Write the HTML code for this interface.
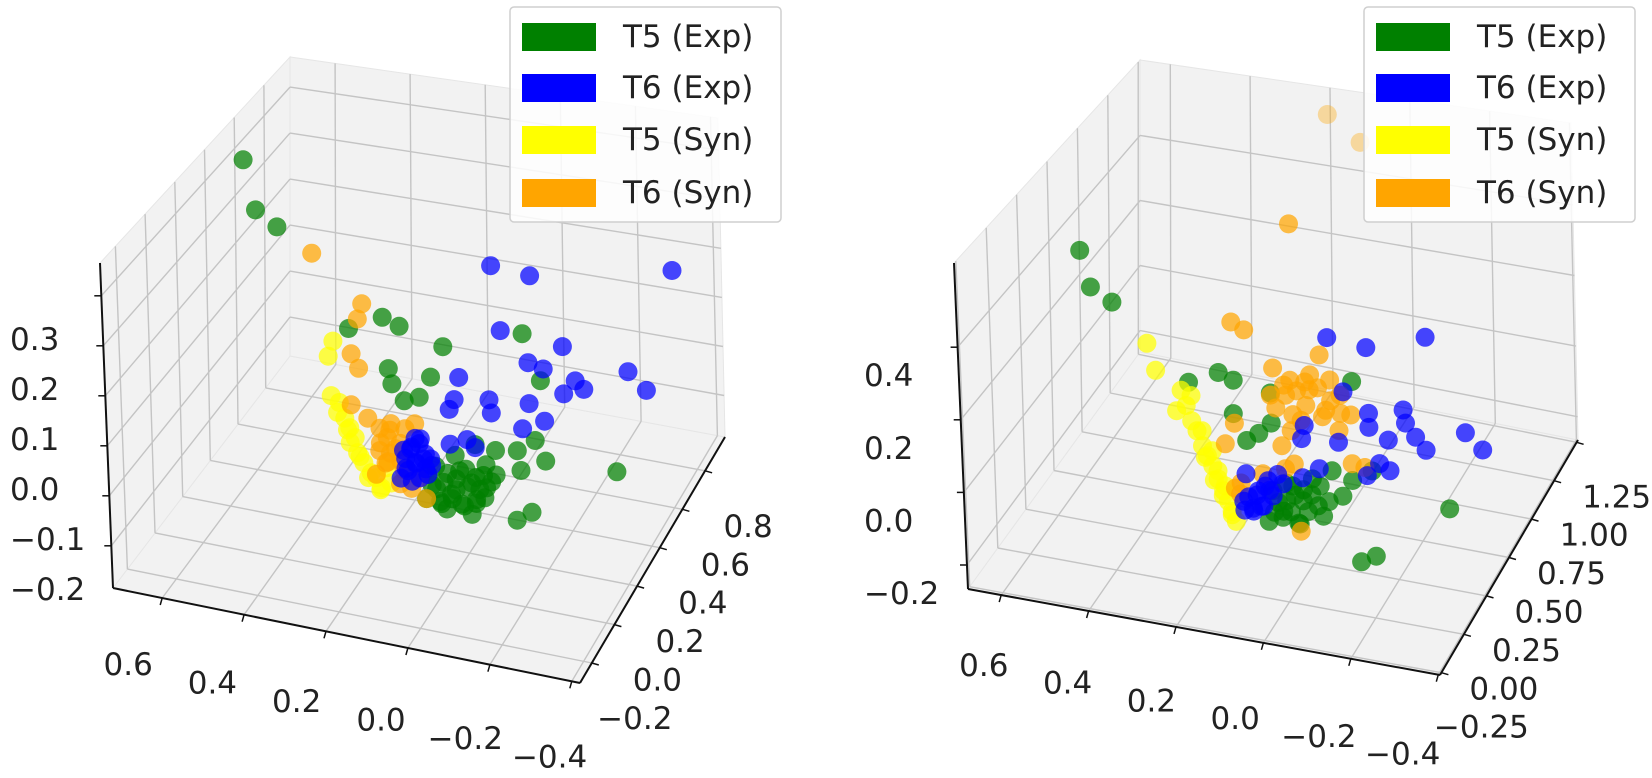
<!DOCTYPE html>
<html><head><meta charset="utf-8">
<style>
html,body{margin:0;padding:0;background:#fff;}
svg text{font-family:"DejaVu Sans","Liberation Sans",sans-serif;fill:#222;}
</style></head>
<body>
<svg id="fig" width="1652" height="773" viewBox="0 0 1652 773" xmlns="http://www.w3.org/2000/svg">
<g id="left"></g>
<g id="right"></g>
</svg>
<script>
// ---------- data: left plot ----------
const leftDepthY = 0.2;
const leftT5ExpX = [0.546,0.518,0.465,0.291,0.205,0.163,0.054,-0.147,0.193,0.185,0.087,0.155,0.117,-0.190,-0.198,-0.072,-0.021,-0.127,-0.135,-0.173,-0.377,-0.122,-0.160,0.029,0.004,-0.021,0.042,0.016,-0.021,-0.047,0.067,0.105,0.054,-0.042,-0.009,-0.072,-0.047,0.079,
  0.09,0.06,0.03,0.0,-0.03,0.08,0.05,0.02,-0.01,-0.04,0.07,0.04,0.01,-0.02,-0.06,0.10,0.03];
const leftT5ExpZ = [0.437,0.338,0.311,0.129,0.165,0.153,0.128,0.185,0.062,0.032,0.061,0.002,0.015,0.096,-0.066,-0.064,-0.060,-0.056,-0.095,-0.028,-0.060,-0.198,-0.176,-0.138,-0.114,-0.127,-0.171,-0.187,-0.172,-0.144,-0.194,-0.190,-0.203,-0.165,-0.204,-0.114,-0.097,-0.166,
  -0.16,-0.15,-0.16,-0.15,-0.15,-0.12,-0.13,-0.12,-0.14,-0.12,-0.19,-0.18,-0.19,-0.18,-0.13,-0.14,-0.09];
const leftT6ExpX = [-0.072,-0.170,-0.530,-0.092,-0.248,-0.160,-0.198,-0.278,-0.299,-0.248,-0.412,-0.457,0.016,0.029,0.042,-0.059,-0.064,-0.160,-0.198,-0.142,-0.001,0.042,-0.021,0.117,0.105,0.130,0.155,0.168,0.105,0.142,0.092,0.155,0.130,
  0.12,0.14,0.16,0.11,0.13,0.15,0.10,0.12,0.14,0.09];
const leftT6ExpZ = [0.312,0.306,0.370,0.183,0.174,0.128,0.121,0.109,0.095,0.078,0.148,0.117,0.071,0.024,0.002,0.037,0.011,0.045,0.015,-0.009,-0.053,-0.069,-0.066,-0.070,-0.099,-0.122,-0.136,-0.158,-0.129,-0.094,-0.107,-0.116,-0.071,
  -0.08,-0.09,-0.10,-0.11,-0.12,-0.14,-0.14,-0.15,-0.16,-0.12];
const leftT5SynX = [0.331,0.344,0.339,0.319,0.306,0.294,0.281,0.276,0.261,0.243,0.231,0.218,0.205,0.193,0.324,0.294,0.25,0.27,0.22,0.30];
const leftT5SynZ = [0.097,0.064,-0.016,-0.027,-0.057,-0.075,-0.093,-0.123,-0.141,-0.159,-0.167,-0.186,-0.143,-0.172,-0.048,-0.105,-0.17,-0.13,-0.19,-0.08];
const leftT6SynX = [0.379,0.256,0.268,0.286,0.268,0.289,0.248,0.218,0.193,0.218,0.193,0.168,0.205,0.155,0.130,0.142,0.122,0.168,0.105,
  0.20,0.22,0.18,0.16,0.20,0.23,0.17,0.19];
const leftT6SynZ = [0.270,0.185,0.152,0.078,0.051,-0.027,-0.048,-0.064,-0.064,-0.094,-0.111,-0.087,-0.133,-0.055,-0.041,-0.175,-0.151,-0.122,-0.190,
  -0.08,-0.11,-0.10,-0.14,-0.13,-0.16,-0.17,-0.05];
const leftXTicks = [0.6,0.4,0.2,0.0,-0.2,-0.4];
const leftYTicks = [-0.2,0.0,0.2,0.4,0.6,0.8];
const leftZTicks = [-0.2,-0.1,0.0,0.1,0.2,0.3];

// ---------- data: right plot ----------
const rightDepthY = 0.33;
const rightT5ExpX = [0.554,0.531,0.481,0.305,0.234,0.199,-0.081,0.201,0.112,0.142,0.171,0.112,0.065,0.018,-0.029,0.041,0.088,0.006,-0.053,0.123,0.053,-0.006,-0.077,-0.124,-0.305,-0.093,-0.128,0.112,
  0.10,0.08,0.06,0.04,0.02,0.0,0.09,0.07,0.03,-0.02,0.05,0.11,0.08];
const rightT5ExpZ = [0.469,0.369,0.337,0.147,0.191,0.177,0.236,0.081,0.074,0.038,0.011,-0.119,-0.095,-0.064,-0.030,-0.132,-0.172,-0.138,-0.097,-0.209,-0.198,-0.165,-0.047,-0.009,-0.076,-0.275,-0.251,0.160,
  -0.15,-0.14,-0.12,-0.10,-0.11,-0.08,-0.19,-0.17,-0.16,-0.12,-0.20,-0.18,-0.09];
const rightT6ExpX = [-0.025,-0.117,-0.258,-0.347,-0.387,-0.119,-0.206,-0.229,-0.253,-0.164,-0.142,-0.166,-0.112,-0.060,-0.119,-0.201,0.034,0.041,-0.046,0.001,0.041,0.088,0.182,0.147,0.123,0.159,0.112,0.175,0.135,
  0.17,0.15,0.13,0.16,0.14,0.18,0.12,0.10];
const rightT6ExpZ = [0.349,0.341,0.402,0.150,0.110,0.114,0.146,0.111,0.079,0.088,0.016,0.001,-0.025,0.202,0.154,0.182,0.085,0.046,0.055,-0.031,-0.066,-0.094,-0.165,-0.128,-0.093,-0.188,-0.134,-0.085,-0.168,
  -0.15,-0.14,-0.11,-0.18,-0.17,-0.19,-0.12,-0.07];
const rightT5SynX = [0.401,0.382,0.323,0.312,0.300,0.288,0.276,0.265,0.253,0.241,0.229,0.218,0.210,0.201,0.300,0.276,0.253,0.241,0.225,0.335,0.27,0.25,0.23,0.21];
const rightT5SynZ = [0.237,0.164,0.120,0.079,0.038,0.012,-0.028,-0.054,-0.080,-0.115,-0.146,-0.173,-0.200,-0.227,0.110,0.015,-0.037,-0.092,-0.131,0.059,-0.06,-0.12,-0.16,-0.21];
const rightT6SynX = [-0.041,0.058,0.201,0.171,-0.006,0.105,0.065,0.018,-0.029,-0.053,-0.018,0.029,0.076,0.112,0.041,-0.077,-0.048,0.065,0.088,0.060,0.081,0.135,0.187,0.201,0.189,0.048,-0.077,-0.107,0.199,0.222,-0.053,-0.117,
  0.05,0.0,-0.03,0.08,0.03,0.10,0.06,-0.01,0.02];
const rightT6SynZ = [0.989,0.655,0.343,0.327,0.295,0.233,0.207,0.233,0.229,0.191,0.140,0.143,0.162,0.154,0.098,0.140,0.089,0.063,0.015,-0.031,-0.049,-0.076,-0.114,-0.132,-0.146,-0.220,0.001,-0.003,0.054,-0.010,0.139,0.926,
  0.18,0.20,0.17,0.19,0.21,0.12,0.11,0.12,0.19];
const rightXTicks = [0.6,0.4,0.2,0.0,-0.2,-0.4];
const rightYTicks = [-0.25,0.0,0.25,0.5,0.75,1.0,1.25];
const rightZTicks = [-0.2,0.0,0.2,0.4];
const rightYTickLabels = ["−0.25","0.00","0.25","0.50","0.75","1.00","1.25"];

const seriesNames = ["T5 (Exp)","T6 (Exp)","T5 (Syn)","T6 (Syn)"];
const seriesColors = ["#008000","#0000ff","#ffff00","#ffa500"];

const NS = "http://www.w3.org/2000/svg";
function mk(tag, attrs, parent){ const e=document.createElementNS(NS,tag); for(const k in attrs) e.setAttribute(k,attrs[k]); parent.appendChild(e); return e; }
function fmt(v){ const s=v.toFixed(1); return v<0 ? "−"+s.slice(1) : (s==="-0.0"?"0.0":s); }

function makePlot(cfg){
  const g = document.getElementById(cfg.id);
  const C = cfg.corners;
  function L(p,q,t){ return [p[0]+(q[0]-p[0])*t, p[1]+(q[1]-p[1])*t]; }
  function proj(a,b,c){
    const b0=L(L(C.p000,C.p100,a), L(C.p010,C.p110,a), b);
    const b1=L(L(C.p001,C.p101,a), L(C.p011,C.p111,a), b);
    return L(b0,b1,c);
  }
  const fa=cfg.fa, fb=cfg.fb, fc=cfg.fc;
  function poly(pts, name){
    const p = mk("polygon",{points:pts.map(q=>q[0].toFixed(1)+","+q[1].toFixed(1)).join(" "),fill:"#f2f2f2",stroke:"#e6e6e6","stroke-width":1},g);
    
    
  }
  poly([proj(0,0,0),proj(1,0,0),proj(1,1,0),proj(0,1,0)], "floor-pane");
  poly([proj(0,0,0),proj(0,1,0),proj(0,1,1),proj(0,0,1)], "left-wall-pane");
  poly([proj(0,1,0),proj(1,1,0),proj(1,1,1),proj(0,1,1)], "back-wall-pane");
  function line(p,q,name,col,w){
    const l = mk("line",{x1:p[0].toFixed(1),y1:p[1].toFixed(1),x2:q[0].toFixed(1),y2:q[1].toFixed(1),stroke:col||"#c4c4c4","stroke-width":w||1.4},g);
    
    
    return l;
  }
  cfg.xTicks.forEach(v=>{ const a=fa(v); line(proj(a,0,0),proj(a,1,0),"grid-x-floor"); line(proj(a,1,0),proj(a,1,1),"grid-x-back"); });
  cfg.yTicks.forEach(v=>{ const b=fb(v); line(proj(0,b,0),proj(1,b,0),"grid-y-floor"); line(proj(0,b,0),proj(0,b,1),"grid-y-wall"); });
  cfg.zTicks.forEach(v=>{ const c=fc(v); line(proj(0,0,c),proj(0,1,c),"grid-z-wall"); line(proj(0,1,c),proj(1,1,c),"grid-z-back"); });
  line(proj(0,0,0),proj(1,0,0),"x-axis-line","#111",2);
  line(proj(1,0,0),proj(1,1,0),"y-axis-line","#111",2);
  line(proj(0,0,0),proj(0,0,1),"z-axis-line","#111",2);
  function label(x,y,txt,name,anchor){
    const t = mk("text",{x:x.toFixed(1),y:y.toFixed(1),"font-size":31,"text-anchor":anchor||"middle","dominant-baseline":"central"},g);
    t.textContent = txt;
    
    
  }
  cfg.xTicks.forEach((v,i)=>{ const a=fa(v); const p=proj(a,0,0); line(p,[p[0]-2,p[1]+7],"x-tick","#111",1.5);
    const o=cfg.xOff(a); label(p[0]+o[0],p[1]+o[1],fmt(v),"x-tick-label"); });
  cfg.yTicks.forEach((v,i)=>{ const b=fb(v); const p=proj(1,b,0); line(p,[p[0]+7,p[1]+2],"y-tick","#111",1.5);
    label(p[0]+cfg.yOff[0],p[1]+cfg.yOff[1], cfg.yLabels? cfg.yLabels[i] : fmt(v),"y-tick-label"); });
  cfg.zTicks.forEach(v=>{ const c=fc(v); const p=proj(0,0,c); line(p,[p[0]-7,p[1]],"z-tick","#111",1.5);
    label(cfg.zLabelX, p[1]+cfg.zOffY, fmt(v),"z-tick-label","start"); });
  const sets=[[cfg.s[0],0],[cfg.s[2],2],[cfg.s[3],3],[cfg.s[1],1]];
  sets.forEach(([s,k])=>{
    const grp = mk("g",{},g);
    
    
    s.x.forEach((xv,i)=>{
      const c=fc(s.z[i]); const p=proj(fa(xv),fb(s.y),c);
      const op = c>1.15 ? 0.35 : 0.72;
      const dot = mk("circle",{cx:p[0].toFixed(1),cy:p[1].toFixed(1),r:9.5,fill:seriesColors[k],"fill-opacity":op},grp);
      
      
    });
  });
  const lg = mk("g",{},g);
  
  
  const bx = mk("rect",{x:cfg.legX,y:7,width:271,height:215,rx:4,fill:"#fff","fill-opacity":0.85,stroke:"#cfcfcf","stroke-width":1.5},lg);
  
  
  [37,88,140,193].forEach((cy,k)=>{
    const r = mk("rect",{x:cfg.legX+12,y:cy-14,width:74,height:28,fill:seriesColors[k]},lg);
    
    
    const t = mk("text",{x:cfg.legX+113,y:cy,"font-size":31,"dominant-baseline":"central"},lg);
    t.textContent = seriesNames[k];
    
    
  });
}

makePlot({
  id:"left",
  corners:{p000:[113,588],p100:[580,683],p010:[290,356],p110:[725,437],p001:[100,263],p101:[570,360],p011:[290,57],p111:[718,118]},
  fa:x=>(0.72-x)/1.14, fb:y=>(y+0.304)/1.28, fc:z=>(z+0.2845)/0.65,
  xTicks:leftXTicks, yTicks:leftYTicks, zTicks:leftZTicks,
  xOff:a=>[-35.4+13.4*a, 66+10.2*a], yOff:[43,56], zLabelX:10, zOffY:44,
  legX:510,
  s:[{x:leftT5ExpX,z:leftT5ExpZ,y:leftDepthY},{x:leftT6ExpX,z:leftT6ExpZ,y:leftDepthY},{x:leftT5SynX,z:leftT5SynZ,y:leftDepthY},{x:leftT6SynX,z:leftT6SynZ,y:leftDepthY}]
});
makePlot({
  id:"right",
  corners:{p000:[968,589],p100:[1440,675],p010:[1140,352],p110:[1578,440],p001:[954,263],p101:[1430,360],p011:[1140,60],p111:[1571,123]},
  fa:x=>(0.676-x)/1.08, fb:y=>(y+0.265)/1.53, fc:z=>(z+0.266)/0.898,
  xTicks:rightXTicks, yTicks:rightYTicks, zTicks:rightZTicks, yLabels:rightYTickLabels,
  xOff:a=>[-16-19.6*a, 70+10*a], yOff:[40,55], zLabelX:864, zOffY:29,
  legX:1364,
  s:[{x:rightT5ExpX,z:rightT5ExpZ,y:rightDepthY},{x:rightT6ExpX,z:rightT6ExpZ,y:rightDepthY},{x:rightT5SynX,z:rightT5SynZ,y:rightDepthY},{x:rightT6SynX,z:rightT6SynZ,y:rightDepthY}]
});
</script>
</body></html>
